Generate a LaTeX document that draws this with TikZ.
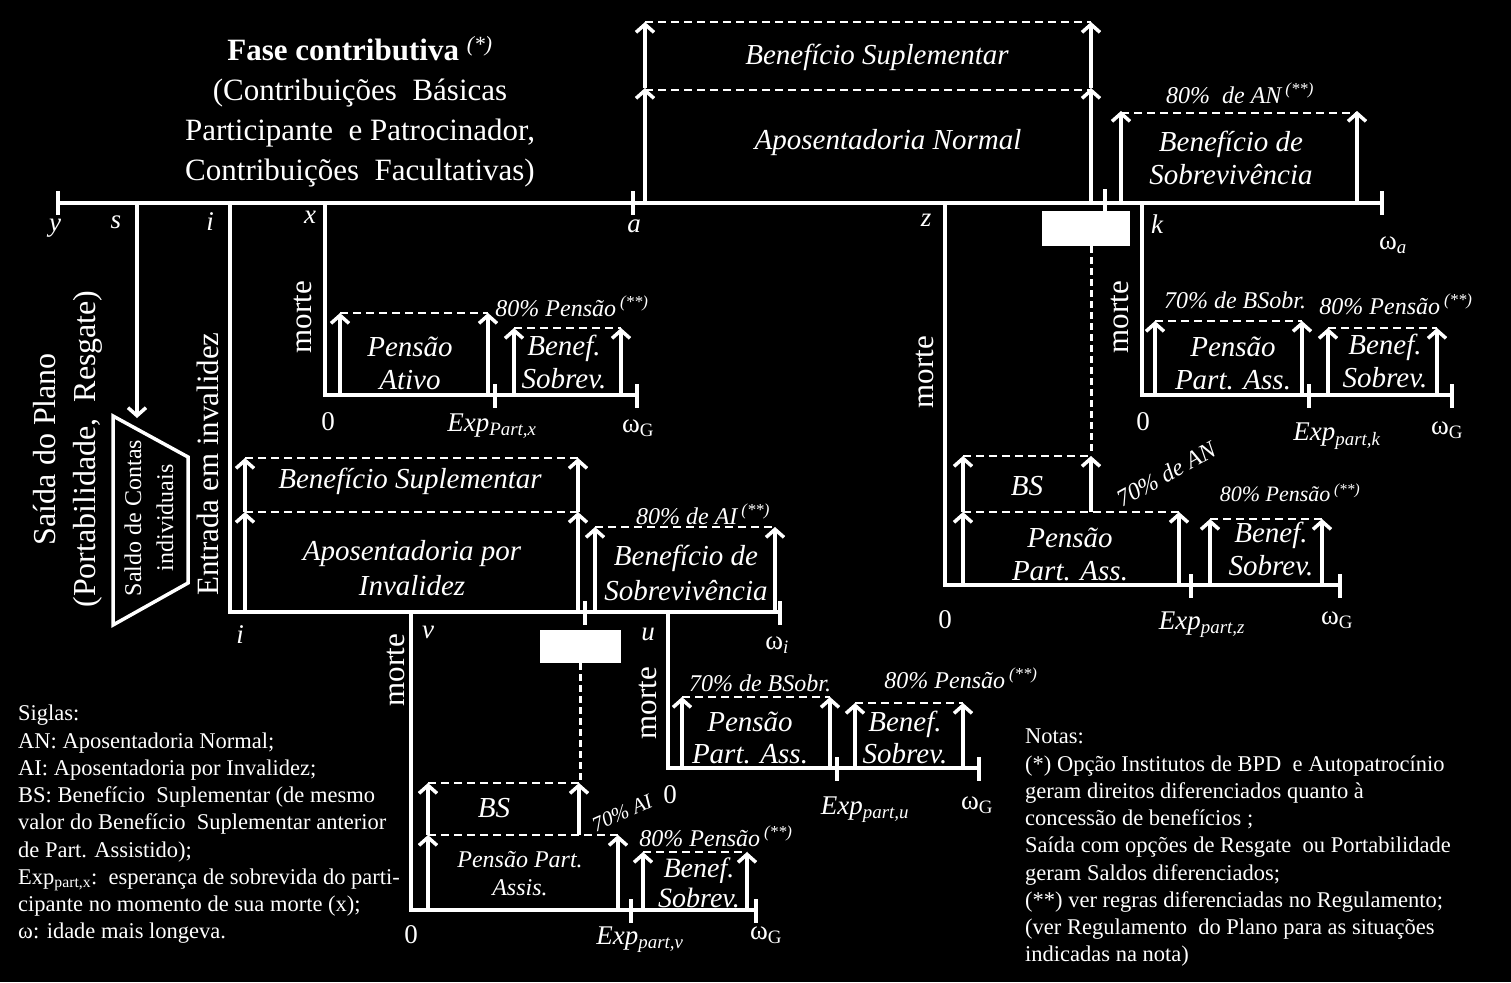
\documentclass[tikz,border=0pt]{standalone}
\usepackage{fontspec}
\setmainfont{Liberation Serif}
\usetikzlibrary{arrows.meta}

\begin{document}
\begin{tikzpicture}[x=1pt,y=-1pt,line join=miter,
      eixo/.style={draw=white,line width=4pt},
      marca/.style={draw=white,line width=4pt},
      seta/.style={draw=white,line width=3.5pt,-{Straight Barb[length=8pt,width=18pt]}},
      nivel/.style={draw=white,line width=2.2pt,dash pattern=on 8pt off 5pt},
      ligacao/.style={draw=white,line width=3pt,dash pattern=on 7pt off 4pt},
      tampa/.style={fill=white,draw=none},
      rotulo/.style={text=white,inner sep=0pt,align=center,font=\fontsize{29}{33}\selectfont\itshape},
      taxa/.style={text=white,inner sep=0pt,font=\fontsize{24}{28}\selectfont\itshape},
      idade/.style={text=white,inner sep=0pt,font=\fontsize{27}{30}\selectfont\itshape},
      zero/.style={text=white,inner sep=0pt,font=\fontsize{27}{30}\selectfont},
      evento/.style={text=white,inner sep=0pt,rotate=90,font=\fontsize{31}{36}\selectfont},
      nota/.style={text=white,inner sep=0pt,align=left,anchor=north west,font=\fontsize{22.5}{27.25}\selectfont}
      ]

      \path[use as bounding box,fill=black] (0,0) rectangle (1511,982);

      % titulo
      \node[text=white,align=center,inner sep=0pt,font=\fontsize{31}{40}\selectfont] (fase) at (360,112)
        {\textbf{Fase contributiva} \textsuperscript{\itshape(*)}\\(Contribuições\ \ Básicas\\Participante\ \ e Patrocinador,\\Contribuições\ \ Facultativas)};

      % linha principal e ramos
      \coordinate (y0) at (58,203);
      \coordinate (wa) at (1382,203);
      \path[eixo] (y0) -- (wa);
      \path[marca] (58,191) -- ++(0,24);
      \path[marca] (633,191) -- ++(0,24);
      \path[marca] (1105,189) -- ++(0,24);
      \path[marca] (1382,191) -- ++(0,24);

      \path[seta] (137,203) -- (137,418);
      \path[eixo] (230,203) -- (230,612) -- (780,612);
      \path[eixo] (325,203) -- (325,395) -- (637,395);
      \path[eixo] (945,203) -- (945,585) -- (1340,585);
      \path[eixo] (1142,203) -- (1142,395) -- (1452,395);
      \path[eixo] (411,612) -- (411,910) -- (756,910);
      \path[eixo] (668,612) -- (668,768) -- (979,768);

      \path[marca] (495,384) -- ++(0,24);
      \path[marca] (637,384) -- ++(0,24);
      \path[marca] (585,601) -- ++(0,24);
      \path[marca] (780,601) -- ++(0,24);
      \path[marca] (631,899) -- ++(0,24);
      \path[marca] (756,899) -- ++(0,24);
      \path[marca] (837,757) -- ++(0,24);
      \path[marca] (979,757) -- ++(0,24);
      \path[marca] (1191,574) -- ++(0,24);
      \path[marca] (1340,574) -- ++(0,24);
      \path[marca] (1309,384) -- ++(0,24);
      \path[marca] (1452,384) -- ++(0,24);

      % idades
      \node[idade] (ly) at (55,228) {y};
      \node[idade] (ls) at (116,222) {s};
      \node[idade] (li) at (210,222) {i};
      \node[idade] (lx) at (310,217) {x};
      \node[idade] (la) at (634,226) {a};
      \node[idade] (lz) at (926,220) {z};
      \node[idade] (lk) at (1157,224) {k};
      \node[zero] (lwa) at (1393,245) {ω\textsubscript{\itshape a}};
      \node[idade] (li2) at (240,635) {i};
      \node[idade] (lv) at (428,632) {v};
      \node[idade] (lu) at (648,634) {u};
      \node[zero] (lwi) at (777,645) {ω\textsubscript{\itshape i}};

      % saida do plano
      \path[draw=white,line width=3.5pt] (113,416) -- (188,457) -- (188,583) -- (113,625) -- cycle;
      \node[text=white,rotate=90,align=center,inner sep=0pt,font=\fontsize{24}{32}\selectfont] (saldo) at (149,518) {Saldo de Contas\\individuais};
      \node[evento,align=center,font=\fontsize{32}{40}\selectfont] (saida) at (68,449) {Saída do Plano\\(Portabilidade,\ \ Resgate)};
      \node[evento] (entrada) at (208,464) {Entrada em invalidez};

      % aposentadoria normal
      \path[seta] (645,203) -- (645,88);
      \path[seta] (645,88) -- (645,22);
      \path[seta] (1091,203) -- (1091,88);
      \path[seta] (1091,88) -- (1091,22);
      \path[nivel] (645,22) -- (1091,22);
      \path[nivel] (645,90) -- (1091,90);
      \node[rotulo] (bsupl) at (877,57) {Benefício Suplementar};
      \node[rotulo] (anorm) at (888,143) {Aposentadoria Normal};

      \path[seta] (1121,203) -- (1121,111);
      \path[seta] (1357,203) -- (1357,111);
      \path[nivel] (1121,113) -- (1357,113);
      \node[taxa] (tan) at (1240,93) {80\%\ \ de AN\,\textsuperscript{(**)}};
      \node[rotulo] (bsobr) at (1231,158) {Benefício de\\Sobrevivência};

      % morte do ativo
      \node[evento] (mx) at (303,317) {morte};
      \path[seta] (340,395) -- (340,313);
      \path[seta] (488,395) -- (488,313);
      \path[nivel] (340,313) -- (488,313);
      \path[seta] (514,395) -- (514,328);
      \path[seta] (621,395) -- (621,328);
      \path[nivel] (514,328) -- (621,328);
      \node[rotulo] (pativo) at (410,363) {Pensão\\Ativo};
      \node[taxa] (tx) at (572,306) {80\% Pensão\,\textsuperscript{(**)}};
      \node[rotulo] (sobx) at (564,362) {Benef.\\Sobrev.};
      \node[zero] (zx) at (328,422) {0};
      \node[idade] (ex) at (492,426) {Exp\textsubscript{Part,x}};
      \node[zero] (gx) at (638,428) {ω\textsubscript{G}};

      % invalidez
      \path[seta] (245,612) -- (245,512);
      \path[seta] (245,512) -- (245,458);
      \path[seta] (578,612) -- (578,512);
      \path[seta] (578,512) -- (578,458);
      \path[nivel] (245,458) -- (578,458);
      \path[nivel] (245,512) -- (578,512);
      \path[seta] (595,612) -- (595,527);
      \path[seta] (775,612) -- (775,527);
      \path[nivel] (595,527) -- (775,527);
      \node[rotulo] (bsupi) at (410,481) {Benefício Suplementar};
      \node[rotulo,font=\fontsize{29}{35}\selectfont\itshape] (ainv) at (412,568) {Aposentadoria por\\Invalidez};
      \node[taxa] (tai) at (703,514) {80\% de AI\,\textsuperscript{(**)}};
      \node[rotulo,font=\fontsize{29}{35}\selectfont\itshape] (bsobi) at (686,573) {Benefício de\\Sobrevivência};

      % morte do invalido
      \path[ligacao] (580,663) -- (580,780);
      \path[tampa] (540,630) rectangle (621,663);
      \node[evento] (mv) at (396,670) {morte};
      \path[seta] (428,910) -- (428,835);
      \path[seta] (428,835) -- (428,783);
      \path[seta] (579,835) -- (579,783);
      \path[seta] (618,910) -- (618,835);
      \path[nivel] (428,783) -- (579,783);
      \path[nivel] (428,835) -- (618,835);
      \path[seta] (643,910) -- (643,852);
      \path[seta] (747,910) -- (747,852);
      \path[nivel] (643,852) -- (747,852);
      \node[rotulo] (bsv) at (494,808) {BS};
      \node[taxa,rotate=24,font=\fontsize{21}{24}\selectfont\itshape] (tv) at (622,813) {70\% AI};
      \node[rotulo,font=\fontsize{24}{28}\selectfont\itshape] (pv) at (520,874) {Pensão Part.\\Assis.};
      \node[taxa] (tv2) at (716,836) {80\% Pensão\,\textsuperscript{(**)}};
      \node[rotulo,font=\fontsize{28}{30}\selectfont\itshape] (sobv) at (699,883) {Benef.\\Sobrev.};
      \node[zero] (zv) at (411,935) {0};
      \node[idade] (ev) at (640,940) {Exp\textsubscript{part,v}};
      \node[zero] (gv) at (766,935) {ω\textsubscript{G}};

      % sobrevivencia do invalido
      \node[evento] (mu) at (648,703) {morte};
      \path[seta] (682,768) -- (682,697);
      \path[seta] (830,768) -- (830,697);
      \path[nivel] (682,697) -- (830,697);
      \path[seta] (855,768) -- (855,703);
      \path[seta] (963,768) -- (963,703);
      \path[nivel] (855,703) -- (963,703);
      \node[taxa] (tu) at (760,683) {70\% de BSobr.};
      \node[taxa] (tu2) at (961,678) {80\% Pensão\,\textsuperscript{(**)}};
      \node[rotulo,font=\fontsize{29}{32}\selectfont\itshape] (pu) at (750,738) {Pensão\\Part. Ass.};
      \node[rotulo,font=\fontsize{29}{32}\selectfont\itshape] (sobu) at (905,737) {Benef.\\Sobrev.};
      \node[zero] (zu) at (670,795) {0};
      \node[idade] (eu) at (865,810) {Exp\textsubscript{part,u}};
      \node[zero] (gu) at (977,805) {ω\textsubscript{G}};

      % morte do aposentado
      \path[ligacao] (1091,246) -- (1091,453);
      \path[tampa] (1042,211) rectangle (1130,246);
      \node[evento] (mz) at (925,372) {morte};
      \path[seta] (963,585) -- (963,512);
      \path[seta] (963,512) -- (963,456);
      \path[seta] (1091,512) -- (1091,456);
      \path[seta] (1179,585) -- (1179,512);
      \path[nivel] (963,456) -- (1091,456);
      \path[nivel] (963,512) -- (1179,512);
      \path[seta] (1210,585) -- (1210,519);
      \path[seta] (1322,585) -- (1322,519);
      \path[nivel] (1210,519) -- (1322,519);
      \node[rotulo] (bsz) at (1027,486) {BS};
      \node[taxa,rotate=29,font=\fontsize{24}{28}\selectfont\itshape] (tz) at (1166,474) {70\% de AN};
      \node[rotulo] (pz) at (1070,554) {Pensão\\Part. Ass.};
      \node[taxa,font=\fontsize{22}{26}\selectfont\itshape] (tz2) at (1290,493) {80\% Pensão\,\textsuperscript{(**)}};
      \node[rotulo] (sobz) at (1271,549) {Benef.\\Sobrev.};
      \node[zero] (zz) at (945,620) {0};
      \node[idade] (ez) at (1202,625) {Exp\textsubscript{part,z}};
      \node[zero] (gz) at (1337,620) {ω\textsubscript{G}};

      % morte do beneficiario
      \node[evento] (mk) at (1120,317) {morte};
      \path[seta] (1155,395) -- (1155,321);
      \path[seta] (1302,395) -- (1302,321);
      \path[nivel] (1155,321) -- (1302,321);
      \path[seta] (1328,395) -- (1328,328);
      \path[seta] (1437,395) -- (1437,328);
      \path[nivel] (1328,328) -- (1437,328);
      \node[taxa] (tk) at (1235,300) {70\% de BSobr.};
      \node[taxa] (tk2) at (1396,304) {80\% Pensão\,\textsuperscript{(**)}};
      \node[rotulo] (pk) at (1233,363) {Pensão\\Part. Ass.};
      \node[rotulo] (sobk) at (1385,361) {Benef.\\Sobrev.};
      \node[zero] (zk) at (1143,422) {0};
      \node[idade] (ek) at (1337,436) {Exp\textsubscript{part,k}};
      \node[zero] (gk) at (1447,430) {ω\textsubscript{G}};

      % siglas e notas
      \node[nota] (siglas) at (18,705) {Siglas:\\AN: Aposentadoria Normal;\\AI: Aposentadoria por Invalidez;\\BS: Benefício\ \ Suplementar (de mesmo\\valor do Benefício\ \ Suplementar anterior\\de Part. Assistido);\\Exp\textsubscript{part,x}:\ \ esperança de sobrevida do parti-\\cipante no momento de sua morte (x);\\ω: idade mais longeva.};
      \node[nota] (notas) at (1025,729) {Notas:\\(*) Opção Institutos de BPD\ \ e Autopatrocínio\\geram direitos diferenciados quanto à\\concessão de benefícios ;\\Saída com opções de Resgate\ \ ou Portabilidade\\geram Saldos diferenciados;\\(**) ver regras diferenciadas no Regulamento;\\(ver Regulamento\ \ do Plano para as situações\\indicadas na nota)};
    \end{tikzpicture}
\end{document}
